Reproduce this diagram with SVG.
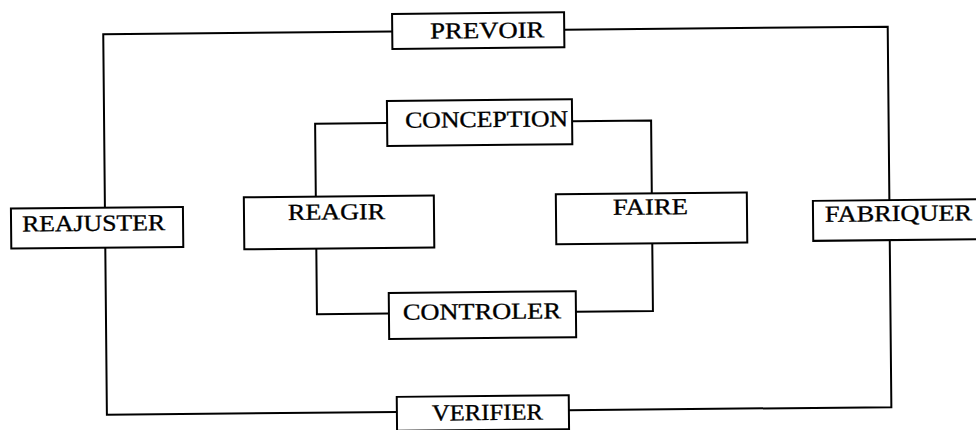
<svg xmlns="http://www.w3.org/2000/svg" width="976" height="430" viewBox="0 0 976 430">
  <style>
    .box { fill: #ffffff; stroke: #000000; stroke-width: 2; }
    .wire { fill: none; stroke: #000000; stroke-width: 2; stroke-linejoin: miter; }
    .lbl { font-family: "Liberation Serif", "Times New Roman", serif; font-size: 23px; fill: #000000; stroke: #000000; stroke-width: 0.35; }
  </style>
  <rect width="976" height="430" fill="#ffffff"/>
  <g transform="rotate(-0.55 488 215)">
    <!-- connectors: outer cycle and inner cycle -->
    <g id="connectors">
      <polyline class="wire" points="394,30.5 105,30.5 105,204"/>
      <polyline class="wire" points="105,244 105,411 395,411"/>
      <polyline class="wire" points="567,411 889.5,411 889.5,244"/>
      <polyline class="wire" points="889.5,204 889.5,30.5 566,30.5"/>
      <polyline class="wire" points="388,122 316,122 316,195"/>
      <polyline class="wire" points="316,247 316,312.5 388,312.5"/>
      <polyline class="wire" points="575,312.5 652,312.5 652,245"/>
      <polyline class="wire" points="652,195 652,122 573,122"/>
    </g>
    <!-- outer cycle nodes -->
    <g id="node-prevoir">
      <rect class="box" x="394" y="13" width="172" height="35"/>
      <text class="lbl" x="432" y="38" textLength="114" lengthAdjust="spacingAndGlyphs">PREVOIR</text>
    </g>
    <g id="node-reajuster">
      <rect class="box" x="11" y="204" width="172" height="40"/>
      <text class="lbl" x="22" y="227" textLength="143" lengthAdjust="spacingAndGlyphs">REAJUSTER</text>
    </g>
    <g id="node-fabriquer">
      <rect class="box" x="813" y="204" width="170" height="40"/>
      <text class="lbl" x="825" y="225" textLength="147" lengthAdjust="spacingAndGlyphs">FABRIQUER</text>
    </g>
    <g id="node-verifier">
      <rect class="box" x="395" y="396" width="172" height="34"/>
      <text class="lbl" x="430" y="420" textLength="111" lengthAdjust="spacingAndGlyphs">VERIFIER</text>
    </g>
    <!-- inner cycle nodes -->
    <g id="node-conception">
      <rect class="box" x="388" y="100" width="185" height="45"/>
      <text class="lbl" x="406" y="127" textLength="163" lengthAdjust="spacingAndGlyphs">CONCEPTION</text>
    </g>
    <g id="node-reagir">
      <rect class="box" x="244" y="195" width="190" height="52"/>
      <text class="lbl" x="288" y="218" textLength="97" lengthAdjust="spacingAndGlyphs">REAGIR</text>
    </g>
    <g id="node-faire">
      <rect class="box" x="556" y="195" width="191" height="50"/>
      <text class="lbl" x="613" y="216" textLength="75" lengthAdjust="spacingAndGlyphs">FAIRE</text>
    </g>
    <g id="node-controler">
      <rect class="box" x="388" y="292" width="187" height="46"/>
      <text class="lbl" x="402" y="319" textLength="158" lengthAdjust="spacingAndGlyphs">CONTROLER</text>
    </g>
  </g>
</svg>
